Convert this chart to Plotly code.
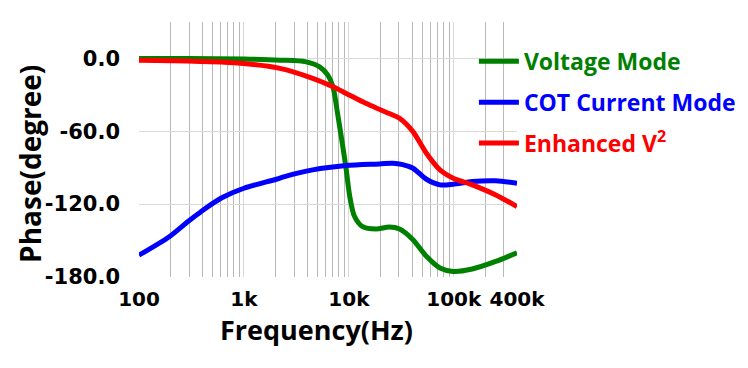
import plotly.graph_objects as go

# ---- data ----
freq_voltage = [100, 300, 1000, 2200, 3900, 5260, 6300, 7050, 7800, 8750, 9440, 10200,
                11300, 13400, 18200, 24200, 30400, 40800, 54800, 73800, 98800, 150000,
                251000, 400000]
phase_voltage = [0, 0, -0.5, -1.4, -2.8, -6.9, -13.7, -23.3, -45.2, -72.6, -91.8, -113.7,
                 -130, -138.3, -140.5, -138.9, -140.5, -149.3, -163, -172.6, -175.4, -173.4,
                 -167.2, -160]

freq_cot = [100, 196, 293, 392, 609, 1000, 2030, 2440, 4520, 9440, 19500, 26200, 32600,
            40800, 54800, 73800, 98800, 150000, 251000, 400000]
phase_cot = [-162, -146.6, -134.3, -126, -115, -106.9, -99.5, -97.3, -91.8, -88.2, -86.9,
             -86.3, -87.5, -90.4, -99.5, -104.1, -103.6, -101.4, -100.8, -102.8]

freq_enh = [100, 815, 2200, 4520, 7050, 9440, 14500, 19500, 26200, 30400, 40800, 54800,
            73800, 98800, 150000, 251000, 400000]
phase_enh = [-1.5, -3.6, -8.2, -16.4, -23.3, -28.8, -37, -41.9, -46.6, -49.3, -60.3, -78.1,
             -91.8, -98.6, -104.1, -112.4, -122]

x_tickvals = [100, 1000, 10000, 100000, 400000]
x_ticktext = ["100", "1k", "10k", "100k", "400k"]
y_tickvals = [0, -60, -120, -180]
y_ticktext = ["0.0", "-60.0", "-120.0", "-180.0"]
x_minor = [m * d for d in (100, 1000, 10000, 100000) for m in range(2, 10) if m * d <= 400000]

series = [
    ("Voltage Mode", freq_voltage, phase_voltage, "#008000"),
    ("COT Current Mode", freq_cot, phase_cot, "#0000ff"),
    ("Enhanced V<sup>2</sup>", freq_enh, phase_enh, "#ff0000"),
]

fig = go.Figure()
for i, (name, fx, py, col) in enumerate(series):
    fig.add_trace(go.Scatter(
        x=fx, y=py, mode="lines",
        name=f"<span style='color:{col}'>{name}</span>",
        legendgroup=f"g{i}",
        line=dict(color=col, width=5, shape="spline", smoothing=0.8),
    ))

ytickfont = dict(family="DejaVu Sans", size=21, color="black", weight="bold")
xtickfont = dict(family="DejaVu Sans", size=20, color="black", weight="bold")
titlefont = dict(family="Open Sans", size=27, color="black", weight="bold")

# the page body has an 8px margin, so the figure is 740x360 placed at (8, 8)
fig.update_layout(
    width=740, height=360,
    margin=dict(l=131, r=231, t=14, b=91, autoexpand=False),
    paper_bgcolor="white", plot_bgcolor="white",
    showlegend=True,
    legend=dict(
        x=0.886, y=0.93, xanchor="left", yanchor="top",
        font=dict(family="Open Sans", size=23, weight="bold"),
        bgcolor="rgba(0,0,0,0)", borderwidth=0,
        tracegroupgap=8, itemwidth=40,
    ),
    xaxis=dict(
        type="log", range=[2, 5.60206], automargin=False,
        tickvals=x_tickvals, ticktext=x_ticktext, tickangle=0,
        tickfont=xtickfont, ticklabelstandoff=8,
        showgrid=True, gridcolor="#d9d9d9", gridwidth=1,
        minor=dict(tickvals=x_minor, showgrid=True, gridcolor="#b8b8b8", gridwidth=1),
        showline=False, zeroline=False, ticks="",
    ),
    yaxis=dict(
        range=[-180, 30], automargin=False,
        tickvals=y_tickvals, ticktext=y_ticktext,
        tickfont=ytickfont, ticklabelstandoff=18,
        showgrid=True, gridcolor="#d9d9d9", gridwidth=1,
        showline=False, zeroline=False, ticks="",
    ),
    annotations=[
        dict(text="Frequency(Hz)", xref="paper", yref="paper", x=0.4705, y=-0.204,
             xanchor="center", yanchor="middle", showarrow=False, font=titlefont),
        dict(text="Phase(degree)", xref="paper", yref="paper", x=-0.29, y=0.445,
             xanchor="center", yanchor="middle", textangle=-90, showarrow=False,
             font=dict(family="Open Sans", size=28, color="black", weight="bold")),
    ],
)

fig.write_html("out.html")
